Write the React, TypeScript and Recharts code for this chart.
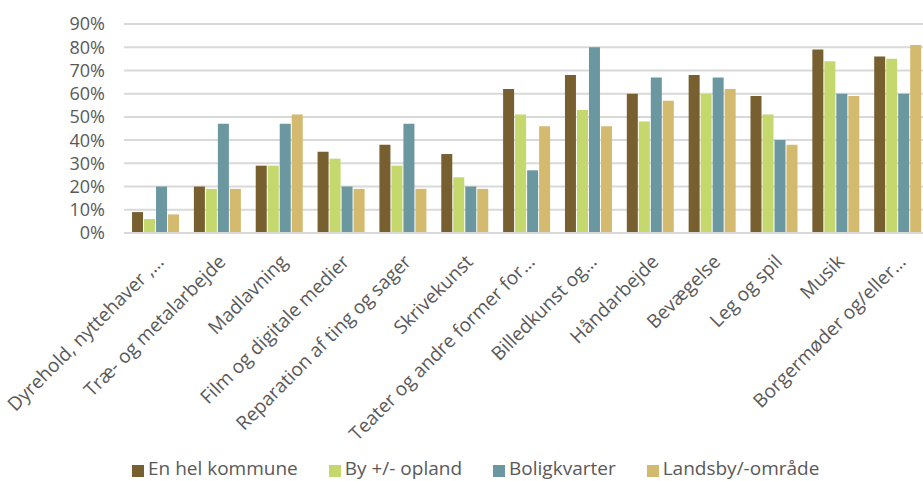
import React from "react";
import { BarChart, Bar, XAxis, YAxis, CartesianGrid, Legend } from "recharts";

const categories = [
  "Dyrehold, nyttehaver ,…",
  "Træ- og metalarbejde",
  "Madlavning",
  "Film og digitale medier",
  "Reparation af ting og sager",
  "Skrivekunst",
  "Teater og andre former for…",
  "Billedkunst og…",
  "Håndarbejde",
  "Bevægelse",
  "Leg og spil",
  "Musik",
  "Borgermøder og/eller…",
];

const enHelKommune = [9, 20, 29, 35, 38, 34, 62, 68, 60, 68, 59, 79, 76];
const byOpland = [6, 19, 29, 32, 29, 24, 51, 53, 48, 60, 51, 74, 75];
const boligkvarter = [20, 47, 47, 20, 47, 20, 27, 80, 67, 67, 40, 60, 60];
const landsby = [8, 19, 51, 19, 19, 19, 46, 46, 57, 62, 38, 59, 81];

const seriesNames = ["En hel kommune", "By +/- opland", "Boligkvarter", "Landsby/-område"];
const yTicks = [0, 10, 20, 30, 40, 50, 60, 70, 80, 90];

const seriesKeys = ["kommune", "by", "bolig", "landsby"];
const colors = ["#775F2F", "#C5D86D", "#6A97A0", "#D4BA6E"];
const textColor = "#595959";
const font = "'Open Sans', sans-serif";

const data = categories.map((name, i) => ({
  name,
  kommune: enHelKommune[i],
  by: byOpland[i],
  bolig: boligkvarter[i],
  landsby: landsby[i],
}));

function AngledTick({ x, y, payload }: any) {
  const ax = x + 10;
  const ay = y + 30;
  return (
    <text
      x={ax}
      y={ay}
      transform={`rotate(-45 ${ax} ${ay})`}
      textAnchor="end"
      fill={textColor}
      fontSize={19}
      fontFamily={font}
    >
      {payload.value}
    </text>
  );
}

function LegendBox() {
  return (
    <div
      style={{
        display: "flex",
        justifyContent: "flex-start",
        alignItems: "flex-start",
        boxSizing: "border-box",
        paddingLeft: 132,
        paddingTop: 2,
        gap: 31,
        height: 24,
        fontSize: 19,
        lineHeight: "19px",
        fontFamily: font,
        color: textColor,
      }}
    >
      {seriesNames.map((n, i) => (
        <div key={n} style={{ display: "flex", alignItems: "center", height: 19 }}>
          <span
            style={{
              display: "inline-block",
              width: 12,
              height: 12,
              background: colors[i],
              marginRight: 4,
              position: "relative",
              top: 2,
            }}
          />
          {n}
        </div>
      ))}
    </div>
  );
}

export default function App() {
  return (
    <div style={{ width: 923, height: 481, overflow: "hidden", fontFamily: font }}>
      <style>{`body{margin:0}`}</style>
      <BarChart
        width={928}
        height={481}
        data={data}
        margin={{ top: 24, right: 0, left: 0, bottom: 0 }}
        barCategoryGap="13%"
        barGap={1}
      >
        <CartesianGrid vertical={false} stroke="#D9D9D9" strokeWidth={2} />
        <XAxis
          dataKey="name"
          interval={0}
          height={224}
          tickLine={false}
          tickSize={0}
          tickMargin={0}
          axisLine={{ stroke: "#D9D9D9", strokeWidth: 2 }}
          tick={<AngledTick />}
        />
        <YAxis
          width={124}
          domain={[0, 90]}
          ticks={yTicks}
          interval={0}
          tickFormatter={(v: number) => `${v}%`}
          axisLine={false}
          tickLine={false}
          tickSize={0}
          tickMargin={19}
          tick={{ fill: textColor, fontSize: 18, fontFamily: font }}
        />
        <Legend verticalAlign="bottom" content={<LegendBox />} />
        {seriesKeys.map((k, i) => (
          <Bar
            key={k}
            dataKey={k}
            name={seriesNames[i]}
            fill={colors[i]}
            isAnimationActive={false}
          />
        ))}
      </BarChart>
    </div>
  );
}
